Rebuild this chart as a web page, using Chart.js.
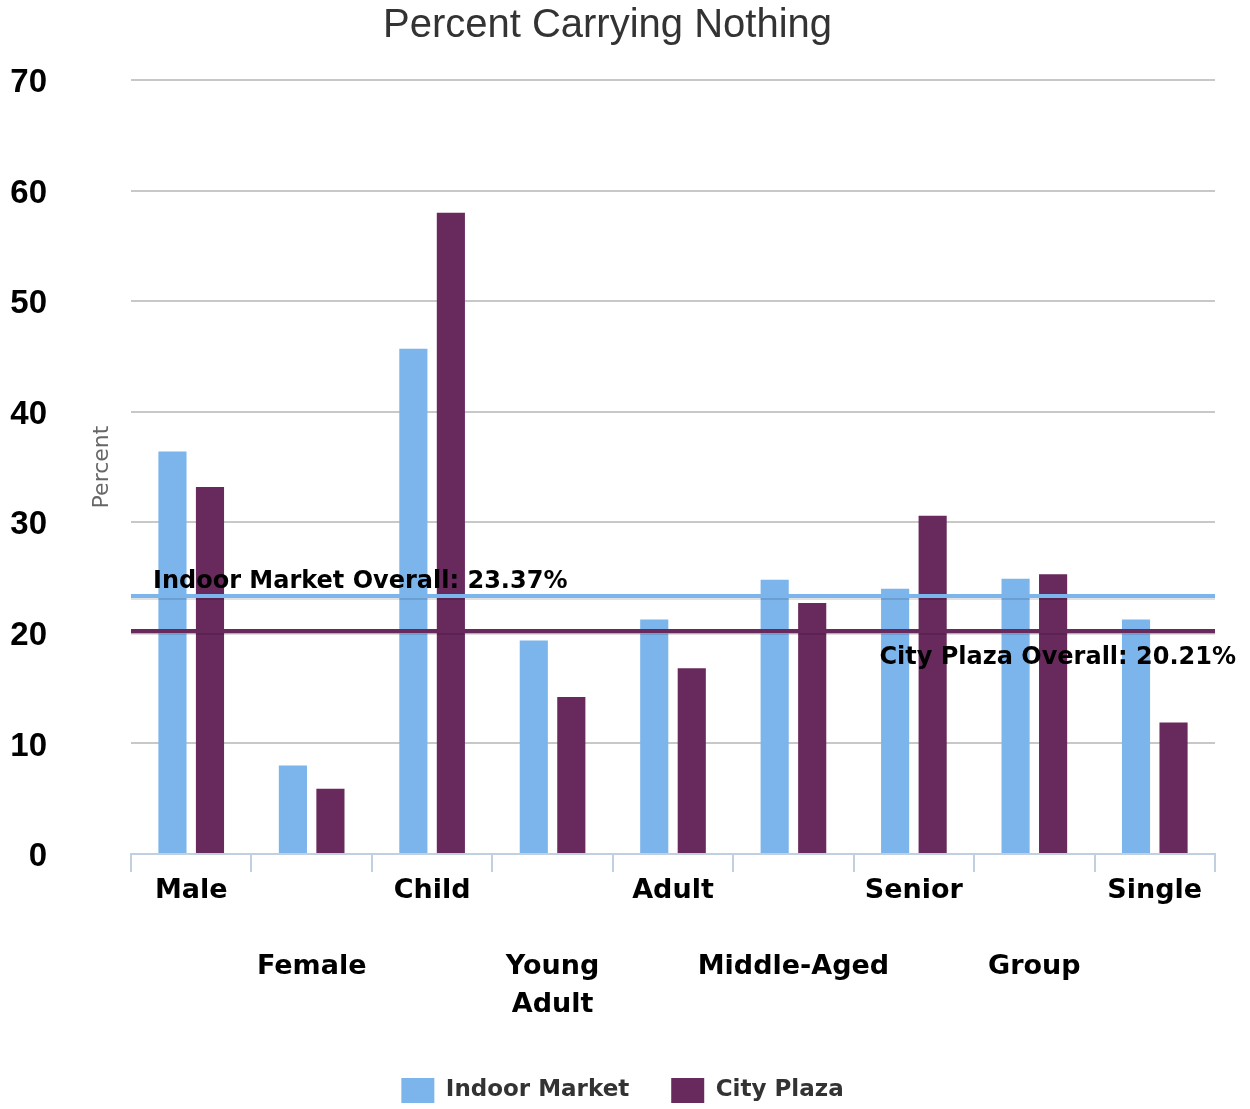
<!DOCTYPE html>
<html>
<head>
<meta charset="utf-8">
<title>Percent Carrying Nothing</title>
<script src="https://cdn.jsdelivr.net/npm/chart.js@4.4.0/dist/chart.umd.min.js"></script>
<style>
  html, body { margin: 0; padding: 0; background: #fff; }
  #wrap { width: 1250px; height: 1109px; }
</style>
</head>
<body>
<div id="wrap"><canvas id="barChart" width="1250" height="1109"></canvas></div>
<script>
const categories = ['Male', 'Female', 'Child', 'Young Adult', 'Adult', 'Middle-Aged', 'Senior', 'Group', 'Single'];
const indoorMarket = [36.4, 8.0, 45.7, 19.3, 21.2, 24.8, 24.0, 24.9, 21.2];
const cityPlaza = [33.2, 5.9, 58.0, 14.2, 16.8, 22.7, 30.6, 25.3, 11.9];
const seriesNames = ['Indoor Market', 'City Plaza'];
const overallValues = [23.37, 20.21];
const yTicks = [0, 10, 20, 30, 40, 50, 60, 70];

const colors = ['#7cb5ec', '#682a5c'];
const labelFont = '"DejaVu Sans", sans-serif';

// overall reference lines with their labels, drawn over the bars
const overallLines = {
  id: 'overallLines',
  afterDatasetsDraw(chart) {
    const { ctx, chartArea, scales: { y } } = chart;
    overallValues.forEach((v, i) => {
      const py = Math.round(y.getPixelForValue(v));
      ctx.save();
      ctx.lineWidth = 4;
      ctx.strokeStyle = 'rgba(0,0,0,0.12)';
      ctx.beginPath();
      ctx.moveTo(chartArea.left, py + 2);
      ctx.lineTo(chartArea.right, py + 2);
      ctx.stroke();
      ctx.strokeStyle = colors[i];
      ctx.beginPath();
      ctx.moveTo(chartArea.left, py);
      ctx.lineTo(chartArea.right, py);
      ctx.stroke();

      ctx.font = 'bold 24px ' + labelFont;
      ctx.fillStyle = '#000';
      ctx.textBaseline = 'alphabetic';
      const text = seriesNames[i] + ' Overall: ' + v.toFixed(2) + '%';
      if (i === 0) {
        ctx.textAlign = 'left';
        ctx.fillText(text, chartArea.left + 22, py - 8);
      } else {
        ctx.textAlign = 'right';
        ctx.fillText(text, chartArea.right + 21, py + 33);
      }
      ctx.restore();
    });
  }
};

// y axis title sits between the tick labels and the plot
const yTitle = {
  id: 'yTitle',
  afterDraw(chart) {
    const { ctx, chartArea } = chart;
    ctx.save();
    ctx.translate(chartArea.left - 29, (chartArea.top + chartArea.bottom) / 2);
    ctx.rotate(-Math.PI / 2);
    ctx.font = '22px ' + labelFont;
    ctx.fillStyle = '#666';
    ctx.textAlign = 'center';
    ctx.textBaseline = 'middle';
    ctx.fillText('Percent', 0, 0);
    ctx.restore();
  }
};

// nudge the legend row a little to the right
const legendShift = {
  id: 'legendShift',
  afterLayout(chart) {
    const lg = chart.legend;
    if (!lg) return;
    lg.left += 15;
    lg.right += 15;
    lg.legendHitBoxes.forEach(b => { b.left += 15; });
  }
};

new Chart(document.getElementById('barChart'), {
  type: 'bar',
  data: {
    labels: categories,
    datasets: [
      {
        label: seriesNames[0],
        data: indoorMarket,
        backgroundColor: colors[0],
        categoryPercentage: 0.623,
        barPercentage: 0.75
      },
      {
        label: seriesNames[1],
        data: cityPlaza,
        backgroundColor: colors[1],
        categoryPercentage: 0.623,
        barPercentage: 0.75
      }
    ]
  },
  options: {
    responsive: false,
    animation: false,
    layout: { padding: { left: 0, right: 35, top: 0, bottom: 0 } },
    plugins: {
      title: {
        display: true,
        text: 'Percent Carrying Nothing',
        color: '#333',
        font: { family: '"Liberation Sans", sans-serif', size: 40, weight: 'normal' },
        padding: { top: 2, bottom: 30 }
      },
      legend: {
        position: 'bottom',
        maxHeight: 73,
        labels: {
          boxWidth: 33,
          boxHeight: 25,
          padding: 42,
          color: '#333',
          font: { family: labelFont, size: 23, weight: 'bold' }
        }
      },
      tooltip: { enabled: false }
    },
    scales: {
      x: {
        grid: {
          offset: true,
          drawOnChartArea: false,
          drawTicks: true,
          tickLength: 18,
          color: '#c0d0e0',
          lineWidth: 2
        },
        border: { color: '#c0d0e0', width: 2 },
        ticks: {
          color: '#000',
          padding: 0,
          maxRotation: 0,
          autoSkip: false,
          font: { family: labelFont, size: 27, weight: 'bold', lineHeight: 1.41 },
          // every second label drops two rows to stagger them
          callback(value, index) {
            const words = categories[index].split(' ');
            return index % 2 === 1 ? ['', ''].concat(words) : words;
          }
        },
        afterFit(scale) { scale.height = 182; }
      },
      y: {
        min: 0,
        max: 70,
        afterBuildTicks(scale) { scale.ticks = yTicks.map(v => ({ value: v })); },
        grid: { color: '#c8c8c8', lineWidth: 2, drawTicks: false },
        border: { display: false },
        ticks: {
          color: '#000',
          padding: 84,
          labelOffset: 3,
          font: { family: '"Liberation Sans", sans-serif', size: 33, weight: 'bold' }
        },
        // the wide tick padding shouldn't push the plot down
        afterFit(scale) {
          scale.width = 131;
          scale.paddingTop = 16;
          scale.paddingBottom = 16;
        }
      }
    }
  },
  plugins: [overallLines, yTitle, legendShift]
});
</script>
</body>
</html>
